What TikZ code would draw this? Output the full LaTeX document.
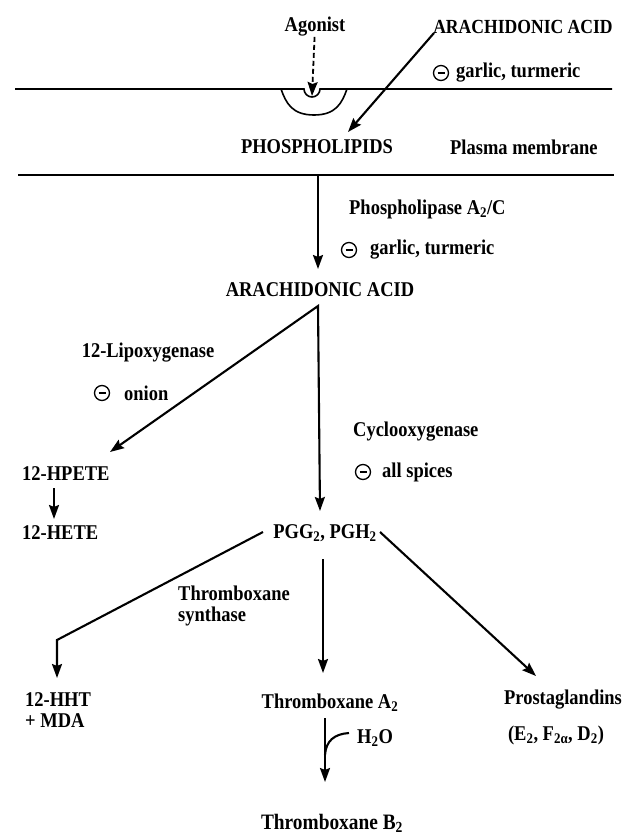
\documentclass[tikz,border=0pt]{standalone}
\usepackage{fontspec}
\setmainfont{Liberation Serif}[FakeStretch=0.88]
\usetikzlibrary{arrows.meta}
\begin{document}
\begin{tikzpicture}[x=1pt,y=-1pt,
  lbl/.style={font=\fontsize{21}{21}\selectfont\bfseries, inner sep=0pt},
  conn/.style={line width=2.1pt, line join=miter},
  tip/.tip={Stealth[length=14pt,width=10pt,inset=2pt]},
  arr/.style={conn, -tip},
  inhib/.style={circle, draw, line width=1.3pt, minimum size=15pt, inner sep=0pt},
  mem/.style={line width=1.6pt}]
\useasboundingbox (0,0) rectangle (628,838);

% top labels
\node[lbl] (agonist) at (315,27) {Agonist};
\node[lbl, font=\fontsize{20}{21}\selectfont\bfseries] (aaTop) at (523,27) {ARACHIDONIC ACID};
\node[inhib] (i1) at (441,73) {\rule{7pt}{1.4pt}};
\node[lbl, anchor=west] (g1) at (456,73) {garlic, turmeric};

% plasma membrane
\draw[mem] (15,89) -- (304,89) arc[start angle=180, end angle=0, radius=8] -- (612,89);
\draw[mem] (281,89) .. controls (286,103) and (292,115) .. (314,115)
                    .. controls (336,115) and (342,103) .. (347,89);
\draw[mem] (18,175) -- (614,175);

\coordinate (dip) at (312,96);
\draw[conn, line width=1.8pt, dash pattern=on 5pt off 3pt, -tip] (agonist) -- (dip);

\coordinate (aaS) at (434,33);
\coordinate (plT) at (348,132);
\draw[arr] (aaS) -- (plT);

\node[lbl] (pl) at (317,147) {PHOSPHOLIPIDS};
\node[lbl, anchor=west] (pm) at (450,147) {Plasma membrane};

% phospholipase step
\coordinate (m2) at (318,175);
\coordinate (aaMidT) at (318,269);
\draw[arr] (m2) -- (aaMidT);
\node[lbl, anchor=west] (plase) at (349,209) {Phospholipase A\textsubscript{2}/C};
\node[inhib] (i2) at (349,250) {\rule{7pt}{1.4pt}};
\node[lbl, anchor=west] (g2) at (370,250) {garlic, turmeric};

\node[lbl] (aaMid) at (320,290) {ARACHIDONIC ACID};

% lipoxygenase / cyclooxygenase
\coordinate (apex) at (318,306);
\coordinate (hpeteT) at (110,452);
\coordinate (pggT) at (320,511);
\draw[conn, tip-tip] (hpeteT) -- (apex) -- (pggT);

\node[lbl] (lox) at (148,353) {12-Lipoxygenase};
\node[inhib] (i3) at (102,393) {\rule{7pt}{1.4pt}};
\node[lbl, anchor=west] (onion) at (124,393) {onion};

\node[lbl, anchor=west] (hpete) at (22,474) {12-HPETE};
\node[lbl, anchor=west] (hete) at (22,533) {12-HETE};
\coordinate (hpB) at (54,488);
\coordinate (heT) at (54,519);
\draw[arr] (hpB) -- (heT);

\node[lbl, anchor=west] (cox) at (353,432) {Cyclooxygenase};
\node[inhib] (i4) at (363,472) {\rule{7pt}{1.4pt}};
\node[lbl, anchor=west] (spices) at (382,472) {all spices};

\node[lbl] (pgg) at (325,533) {PGG\textsubscript{2}, PGH\textsubscript{2}};

% branches from PGG2/PGH2
\coordinate (pggL) at (263,532);
\coordinate (corner) at (57,640);
\coordinate (hhtT) at (57,678);
\draw[arr] (pggL) -- (corner) -- (hhtT);

\coordinate (pggB) at (323,559);
\coordinate (txaT) at (323,673);
\draw[arr] (pggB) -- (txaT);

\coordinate (pggR) at (380,532);
\coordinate (pgT) at (536,676);
\draw[arr] (pggR) -- (pgT);

\node[lbl, align=left, anchor=west] (txs) at (178,606) {Thromboxane\\synthase};
\node[lbl, align=left, anchor=west] (hht) at (25,710) {12-HHT\\+ MDA};
\node[lbl] (txa) at (330,703) {Thromboxane A\textsubscript{2}};
\node[lbl] (pgs) at (563,700) {Prostaglandins};
\node[lbl] (pgsub) at (556,735) {(E\textsubscript{2}, F\textsubscript{2α}, D\textsubscript{2})};

% hydrolysis
\coordinate (txaB) at (325,718);
\coordinate (txbT) at (325,782);
\draw[arr] (txaB) -- (txbT);
\coordinate (wS) at (349,733);
\coordinate (wJ) at (325,755);
\draw[conn] (wS) .. controls (334,734) and (326,741) .. (wJ);
\node[lbl, anchor=west] (h2o) at (357,738) {H\textsubscript{2}O};

\node[lbl, font=\fontsize{22}{22}\selectfont\bfseries] (txb) at (332,823) {Thromboxane B\textsubscript{2}};
\end{tikzpicture}
\end{document}
